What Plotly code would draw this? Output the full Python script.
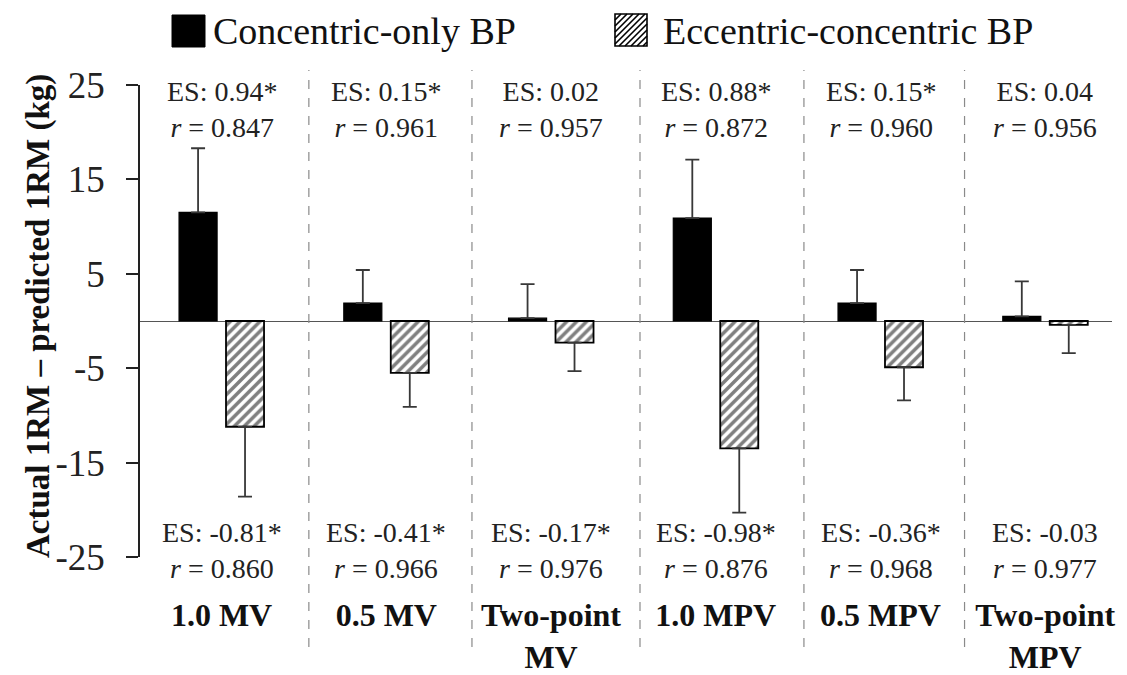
import plotly.graph_objects as go

# ---------------- data ----------------
categories = ["1.0 MV", "0.5 MV", "Two-point MV", "1.0 MPV", "0.5 MPV", "Two-point MPV"]
tick_labels = ["1.0 MV", "0.5 MV", "Two-point<br>MV", "1.0 MPV", "0.5 MPV", "Two-point<br>MPV"]

concentric_mean = [11.5, 1.9, 0.3, 10.9, 1.9, 0.5]
concentric_sd = [6.8, 3.5, 3.6, 6.2, 3.5, 3.7]
eccentric_mean = [-11.2, -5.5, -2.3, -13.5, -4.9, -0.4]
eccentric_sd = [7.4, 3.6, 3.0, 6.8, 3.5, 3.0]

es_concentric = ["0.94*", "0.15*", "0.02", "0.88*", "0.15*", "0.04"]
r_concentric = ["0.847", "0.961", "0.957", "0.872", "0.960", "0.956"]
es_eccentric = ["-0.81*", "-0.41*", "-0.17*", "-0.98*", "-0.36*", "-0.03"]
r_eccentric = ["0.860", "0.966", "0.976", "0.876", "0.968", "0.977"]

y_ticks = [-25, -15, -5, 5, 15, 25]
y_tick_labels = ["-25", "-15", "-5", "5", "15", "25"]

# ---------------- layout helpers (pixel -> paper) ----------------
W, H = 1127, 675
ML, MR, MT, MB = 140, 15, 85, 118
PW, PH = W - ML - MR, H - MT - MB


def xp(px):
    return (px - ML) / PW


def yp(py):
    return (H - MB - py) / PH


FONT = "Liberation Serif, Times New Roman, serif"
separator_positions = [0.53, 1.52, 2.54, 3.535, 4.51]

fig = go.Figure()

fig.add_trace(go.Bar(
    x=categories, y=concentric_mean, name="Concentric-only BP",
    marker=dict(color="black", line=dict(color="black", width=1.2)),
    error_y=dict(type="data", symmetric=False, array=concentric_sd,
                 arrayminus=[0] * len(concentric_sd),
                 color="#383838", thickness=1.8, width=7),
    showlegend=False,
))
fig.add_trace(go.Bar(
    x=categories, y=eccentric_mean, name="Eccentric-concentric BP",
    marker=dict(color="white", line=dict(color="black", width=1.8),
                pattern=dict(shape="/", fgcolor="black", bgcolor="white",
                             size=7, solidity=0.5)),
    error_y=dict(type="data", symmetric=False, array=[0] * len(eccentric_sd),
                 arrayminus=eccentric_sd,
                 color="#383838", thickness=1.8, width=7),
    showlegend=False,
))

shapes = []
for pos in separator_positions:
    shapes.append(dict(type="line", xref="x", yref="paper", x0=pos, x1=pos,
                       y0=yp(647), y1=yp(70),
                       line=dict(color="#8a8a8a", width=1.2, dash="dash")))

# custom legend glyphs
shapes.append(dict(type="rect", xref="paper", yref="paper",
                   x0=xp(172), x1=xp(205), y0=yp(47), y1=yp(15),
                   fillcolor="black", line=dict(color="black", width=1)))
hx0, hx1, hy0, hy1 = 615, 647, 14, 46
side = hx1 - hx0
path = ""
t = -side
while t < side:
    s0 = max(0, -t)
    s1 = min(side, side - t)
    if s1 > s0:
        xa, ya = hx0 + t + s0, hy1 - s0
        xb, yb = hx0 + t + s1, hy1 - s1
        path += f"M{xp(xa)},{yp(ya)} L{xp(xb)},{yp(yb)} "
    t += 6
shapes.append(dict(type="path", xref="paper", yref="paper", path=path,
                   line=dict(color="black", width=1.6)))
shapes.append(dict(type="rect", xref="paper", yref="paper",
                   x0=xp(hx0), x1=xp(hx1), y0=yp(hy1), y1=yp(hy0),
                   line=dict(color="black", width=1.6)))

annotations = [
    dict(text="Concentric-only BP", xref="paper", yref="paper", x=xp(211), y=yp(31),
         xanchor="left", yanchor="middle", showarrow=False,
         font=dict(family=FONT, size=38, color="#111")),
    dict(text="Eccentric-concentric BP", xref="paper", yref="paper", x=xp(661), y=yp(31),
         xanchor="left", yanchor="middle", showarrow=False,
         font=dict(family=FONT, size=38, color="#111")),
    dict(text="<b>Actual 1RM – predicted 1RM (kg)</b>", xref="paper", yref="paper",
         x=xp(38), y=yp(316), xanchor="center", yanchor="middle", textangle=-90,
         showarrow=False, font=dict(family=FONT, size=33, color="#111")),
]
for i, cat in enumerate(categories):
    annotations.append(dict(
        text=f"ES: {es_concentric[i]}<br><i>r</i> = {r_concentric[i]}",
        x=cat, xref="x", yref="paper", y=yp(110), yanchor="middle",
        showarrow=False, font=dict(family=FONT, size=28, color="#222")))
    annotations.append(dict(
        text=f"ES: {es_eccentric[i]}<br><i>r</i> = {r_eccentric[i]}",
        x=cat, xref="x", yref="paper", y=yp(550), yanchor="middle",
        showarrow=False, font=dict(family=FONT, size=28, color="#222")))

fig.update_layout(
    width=W, height=H,
    margin=dict(l=ML, r=MR, t=MT, b=MB, pad=0, autoexpand=False),
    paper_bgcolor="white", plot_bgcolor="white",
    barmode="group", bargap=0.43, bargroupgap=0.19,
    shapes=shapes, annotations=annotations,
    font=dict(family=FONT, color="#111"),
)
fig.update_xaxes(
    type="category", range=[-0.495, 5.405],
    tickvals=categories, ticktext=tick_labels,
    tickfont=dict(family=FONT, size=32, color="#111", weight="bold"),
    ticks="", showline=False, showgrid=False, zeroline=False,
    ticklabelstandoff=36, automargin=False,
)
fig.update_yaxes(
    range=[-25, 25], tickvals=y_ticks, ticktext=y_tick_labels,
    tickfont=dict(family=FONT, size=37, color="#222"),
    ticks="outside", ticklen=12, tickwidth=1.5, tickcolor="#222",
    showline=True, linecolor="#222", linewidth=1.5,
    showgrid=False, zeroline=True, zerolinecolor="#555", zerolinewidth=1.3,
    ticklabelstandoff=14, automargin=False,
)

fig.write_html("out.html")
